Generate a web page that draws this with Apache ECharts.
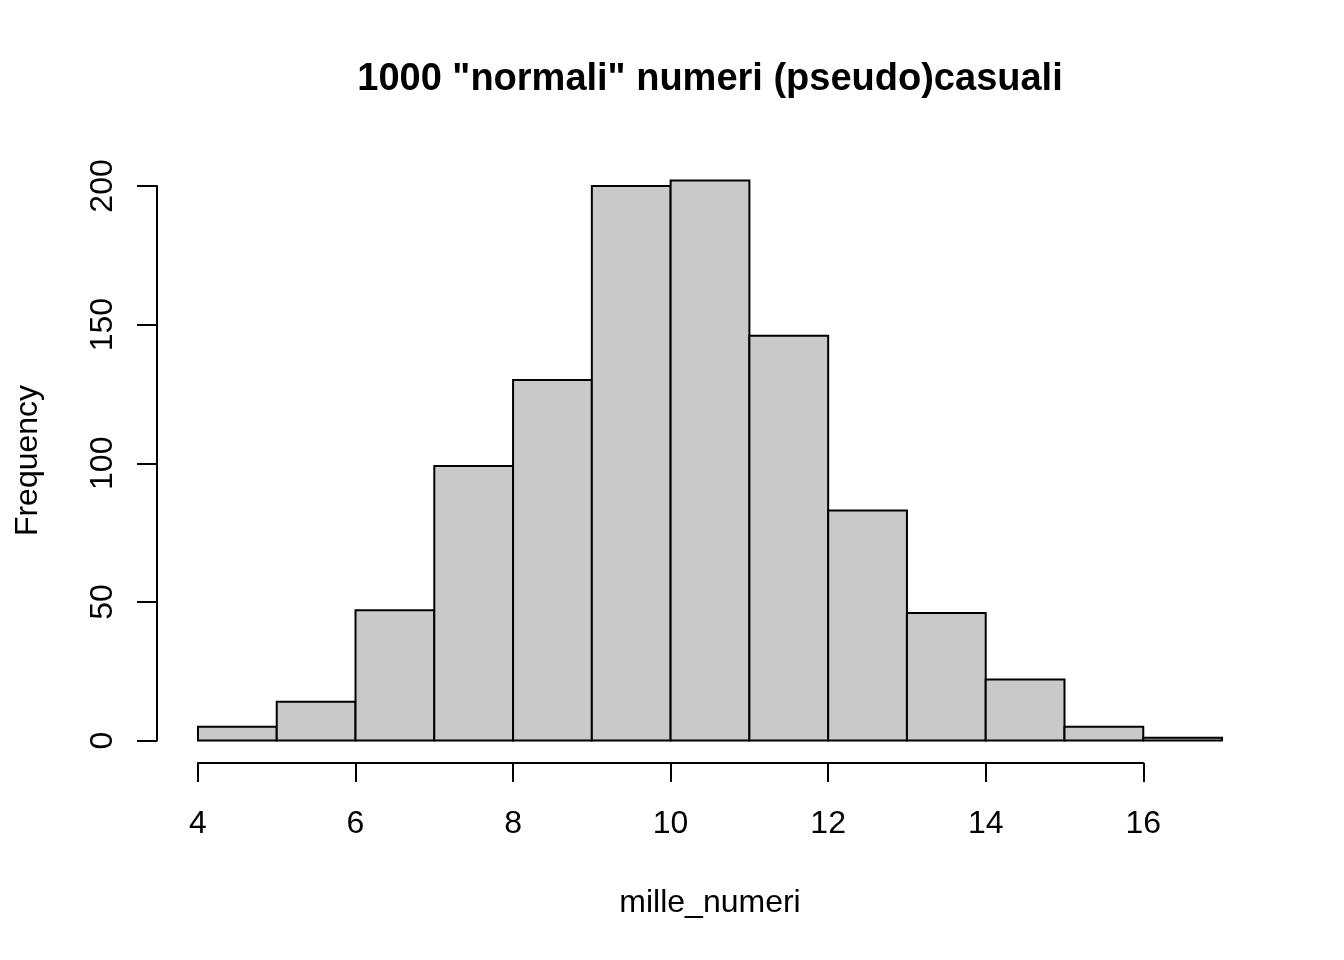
<!DOCTYPE html>
<html>
<head>
<meta charset="utf-8">
<script src="https://cdn.jsdelivr.net/npm/echarts@6/dist/echarts.min.js"></script>
<style>
  html, body { margin: 0; padding: 0; background: #fff; }
  #main { width: 1344px; height: 960px; }
</style>
</head>
<body>
<div id="main"></div>
<script>
// istogramma: bordi delle classi e frequenze
var binEdges = [4, 5, 6, 7, 8, 9, 10, 11, 12, 13, 14, 15, 16, 17];
var counts = [5, 14, 47, 99, 130, 200, 202, 146, 83, 46, 22, 5, 1];
var xTicks = [4, 6, 8, 10, 12, 14, 16];
var yTicks = [0, 50, 100, 150, 200];

var FONT = '"Liberation Sans", Arial, Helvetica, sans-serif';

// regione del grafico come in R (4% di margine sugli estremi)
var plot = { left: 157, right: 1263, top: 158, bottom: 763 };
var xMin = binEdges[0] - 0.04 * (binEdges[binEdges.length - 1] - binEdges[0]);
var xMax = binEdges[binEdges.length - 1] + 0.04 * (binEdges[binEdges.length - 1] - binEdges[0]);
var yTop = Math.max.apply(null, counts);
var yMin = -0.04 * yTop;
var yMax = yTop * 1.04;

function px(v) { return plot.left + (v - xMin) / (xMax - xMin) * (plot.right - plot.left); }
function py(v) { return plot.top + (yMax - v) / (yMax - yMin) * (plot.bottom - plot.top); }

var barData = counts.map(function (c, i) { return [binEdges[i], binEdges[i + 1], c]; });

var chartDom = document.getElementById('main');
var myChart = echarts.init(chartDom);

var option = {
    animation: false,
    backgroundColor: '#ffffff',
    textStyle: { fontFamily: FONT },
    graphic: [{
        type: 'text',
        x: (plot.left + plot.right) / 2,
        y: 80,
        style: {
            text: '1000 "normali" numeri (pseudo)casuali',
            font: 'bold 38px ' + FONT,
            fill: '#000',
            textAlign: 'center',
            textVerticalAlign: 'middle'
        }
    }],
    grid: [
        // area dei rettangoli
        { left: plot.left, top: plot.top, width: plot.right - plot.left, height: plot.bottom - plot.top },
        // asse x da 4 a 16
        { left: px(xTicks[0]), width: px(xTicks[xTicks.length - 1]) - px(xTicks[0]), top: plot.bottom - 50, height: 50 },
        // asse y da 0 a 200
        { left: plot.left, width: 50, top: py(yTicks[yTicks.length - 1]), height: py(yTicks[0]) - py(yTicks[yTicks.length - 1]) }
    ],
    xAxis: [
        {
            gridIndex: 0, type: 'value', min: xMin, max: xMax,
            axisLine: { show: false }, axisTick: { show: false }, axisLabel: { show: false }, splitLine: { show: false },
            name: 'mille_numeri', nameLocation: 'middle', nameGap: 124,
            nameTextStyle: { fontSize: 32, color: '#000', fontFamily: FONT }
        },
        {
            gridIndex: 1, type: 'value', min: xTicks[0], max: xTicks[xTicks.length - 1], interval: 2,
            axisLine: { show: true, lineStyle: { color: '#000', width: 2 } },
            axisTick: { show: true, length: 19, lineStyle: { color: '#000', width: 2 } },
            axisLabel: { fontSize: 32, color: '#000', margin: 45, fontFamily: FONT, showMinLabel: true, showMaxLabel: true },
            splitLine: { show: false }
        },
        { gridIndex: 2, type: 'value', show: false }
    ],
    yAxis: [
        {
            gridIndex: 0, type: 'value', min: yMin, max: yMax,
            axisLine: { show: false }, axisTick: { show: false }, axisLabel: { show: false }, splitLine: { show: false },
            name: 'Frequency', nameLocation: 'middle', nameGap: 113, nameRotate: 90,
            nameTextStyle: { fontSize: 32, color: '#000', fontFamily: FONT }
        },
        { gridIndex: 1, type: 'value', show: false },
        {
            gridIndex: 2, type: 'value', min: yTicks[0], max: yTicks[yTicks.length - 1], interval: 50,
            axisLine: { show: true, lineStyle: { color: '#000', width: 2 } },
            axisTick: { show: true, length: 20, lineStyle: { color: '#000', width: 2 } },
            axisLabel: { fontSize: 32, color: '#000', margin: 38, rotate: 90, fontFamily: FONT, showMinLabel: true, showMaxLabel: true },
            splitLine: { show: false }
        }
    ],
    series: [{
        type: 'custom',
        xAxisIndex: 0,
        yAxisIndex: 0,
        data: barData,
        renderItem: function (params, api) {
            var p0 = api.coord([api.value(0), api.value(2)]);
            var p1 = api.coord([api.value(1), 0]);
            return {
                type: 'rect',
                shape: { x: p0[0], y: p0[1], width: p1[0] - p0[0], height: p1[1] - p0[1] },
                style: { fill: '#c9c9c9', stroke: '#000', lineWidth: 2 }
            };
        }
    }]
};

option && myChart.setOption(option);
</script>
</body>
</html>
